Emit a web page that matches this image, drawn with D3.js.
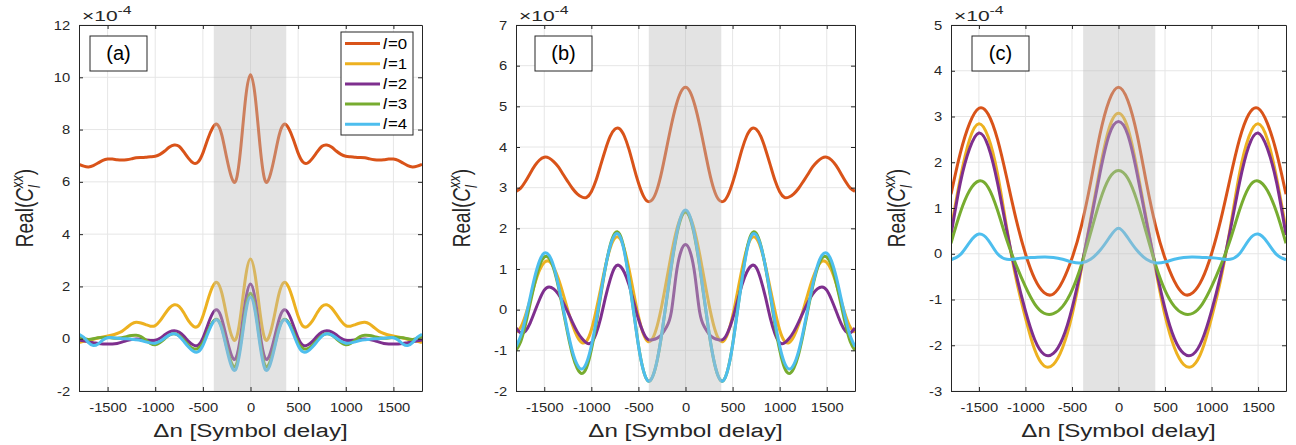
<!DOCTYPE html>
<html>
<head>
<meta charset="utf-8">
<script src="https://cdn.jsdelivr.net/npm/d3@7/dist/d3.min.js"></script>
<style>
  body { margin: 0; background: #fff; }
  svg { display: block; font-family: 'Liberation Sans', Arial, sans-serif; }
</style>
</head>
<body>
<script>
// delay grid used by panels (a) and (b), step 50
var xDense = [-1800, -1750, -1700, -1650, -1600, -1550, -1500, -1450, -1400, -1350, -1300, -1250,
  -1200, -1150, -1100, -1050, -1000, -950, -900, -850, -800, -750, -700, -650, -600, -550, -500,
  -450, -400, -350, -300, -250, -200, -150, -100, -50, 0, 50, 100, 150, 200, 250, 300, 350, 400,
  450, 500, 550, 600, 650, 700, 750, 800, 850, 900, 950, 1000, 1050, 1100, 1150, 1200, 1250, 1300,
  1350, 1400, 1450, 1500, 1550, 1600, 1650, 1700, 1750, 1800];
// delay grid used by panel (c), step 100
var xSparse = [-1800, -1700, -1600, -1500, -1400, -1300, -1200, -1100, -1000, -900, -800, -700,
  -600, -500, -400, -300, -200, -100, 0, 100, 200, 300, 400, 500, 600, 700, 800, 900, 1000, 1100,
  1200, 1300, 1400, 1500, 1600, 1700, 1800];

var seriesNames = ['0', '1', '2', '3', '4'];
var seriesColors = ['#D95319', '#EDB120', '#7E2F8E', '#77AC30', '#4DBEEE'];
var xTicks = [-1500, -1000, -500, 0, 500, 1000, 1500];
var yTicksA = [-2, 0, 2, 4, 6, 8, 10, 12];
var yTicksB = [-2, -1, 0, 1, 2, 3, 4, 5, 6, 7];
var yTicksC = [-3, -2, -1, 0, 1, 2, 3, 4, 5];
var shadeA = [-385, 375];
var shadeB = [-390, 380];
var shadeC = [-380, 395];

// panel (a), values x 1e-4
var aL0 = [6.67, 6.60, 6.57, 6.62, 6.72, 6.82, 6.87, 6.87, 6.85, 6.84, 6.85, 6.88, 6.92, 6.93, 6.94, 6.96, 6.98, 7.05, 7.18, 7.33, 7.41, 7.36, 7.15, 6.90, 6.72, 6.76, 7.10, 7.62, 8.05, 8.20, 7.78, 6.92, 6.18, 6.08, 7.38, 9.24, 10.1, 9.24, 7.38, 6.08, 6.18, 6.92, 7.78, 8.20, 8.05, 7.62, 7.10, 6.76, 6.72, 6.90, 7.15, 7.36, 7.41, 7.33, 7.18, 7.05, 6.98, 6.96, 6.94, 6.93, 6.92, 6.88, 6.85, 6.84, 6.85, 6.87, 6.87, 6.82, 6.72, 6.62, 6.57, 6.60, 6.67];
var aL1 = [-0.15, -0.10, -0.06, -0.02, 0.03, 0.07, 0.10, 0.14, 0.20, 0.28, 0.42, 0.56, 0.63, 0.60, 0.54, 0.48, 0.50, 0.68, 0.94, 1.18, 1.30, 1.24, 0.99, 0.68, 0.48, 0.48, 0.86, 1.45, 1.97, 2.15, 1.73, 0.87, 0.13, 0.01, 1.00, 2.40, 3.05, 2.40, 1.00, 0.01, 0.13, 0.87, 1.73, 2.15, 1.97, 1.45, 0.86, 0.48, 0.48, 0.68, 0.99, 1.24, 1.30, 1.18, 0.94, 0.68, 0.50, 0.48, 0.54, 0.60, 0.63, 0.56, 0.42, 0.28, 0.20, 0.14, 0.10, 0.07, 0.03, -0.02, -0.06, -0.10, -0.15];
var aL2 = [-0.05, -0.08, -0.12, -0.15, -0.18, -0.20, -0.20, -0.20, -0.18, -0.13, -0.07, -0.03, -0.01, -0.02, -0.05, -0.07, -0.06, 0.02, 0.15, 0.26, 0.30, 0.25, 0.10, -0.10, -0.24, -0.25, 0.02, 0.51, 0.95, 1.10, 0.74, 0.01, -0.63, -0.72, 0.20, 1.49, 2.09, 1.49, 0.20, -0.72, -0.63, 0.01, 0.74, 1.10, 0.95, 0.51, 0.02, -0.25, -0.24, -0.10, 0.10, 0.25, 0.30, 0.26, 0.15, 0.02, -0.06, -0.07, -0.05, -0.02, -0.01, -0.03, -0.07, -0.13, -0.18, -0.20, -0.20, -0.20, -0.18, -0.15, -0.12, -0.08, -0.05];
var aL3 = [0.08, 0.02, -0.03, 0.00, 0.04, 0.05, 0.05, 0.03, 0.02, 0.04, 0.08, 0.12, 0.13, 0.08, -0.05, -0.18, -0.23, -0.15, 0.00, 0.14, 0.19, 0.12, -0.05, -0.25, -0.38, -0.37, -0.16, 0.25, 0.62, 0.74, 0.40, -0.31, -0.92, -1.01, -0.11, 1.15, 1.74, 1.15, -0.11, -1.01, -0.92, -0.31, 0.40, 0.74, 0.62, 0.25, -0.16, -0.37, -0.38, -0.25, -0.05, 0.12, 0.19, 0.14, 0.00, -0.15, -0.23, -0.18, -0.05, 0.08, 0.13, 0.12, 0.08, 0.04, 0.02, 0.03, 0.05, 0.05, 0.04, 0.00, -0.03, 0.02, 0.08];
var aL4 = [0.17, 0.05, -0.15, -0.26, -0.20, -0.05, 0.04, 0.04, 0.02, 0.00, 0.00, -0.02, -0.04, -0.07, -0.12, -0.16, -0.17, -0.10, 0.03, 0.15, 0.19, 0.10, -0.10, -0.32, -0.48, -0.50, -0.26, 0.18, 0.58, 0.72, 0.36, -0.39, -1.05, -1.14, -0.25, 1.01, 1.60, 1.01, -0.25, -1.14, -1.05, -0.39, 0.36, 0.72, 0.58, 0.18, -0.26, -0.50, -0.48, -0.32, -0.10, 0.10, 0.19, 0.15, 0.03, -0.10, -0.17, -0.16, -0.12, -0.07, -0.04, -0.02, 0.00, 0.00, 0.02, 0.04, 0.04, -0.05, -0.20, -0.26, -0.15, 0.05, 0.17];

// panel (b)
var bL0 = [2.91, 2.99, 3.15, 3.35, 3.54, 3.68, 3.75, 3.73, 3.64, 3.51, 3.33, 3.15, 2.98, 2.85, 2.77, 2.76, 2.90, 3.18, 3.56, 3.94, 4.26, 4.44, 4.45, 4.27, 3.94, 3.52, 3.12, 2.81, 2.66, 2.71, 2.97, 3.42, 3.98, 4.54, 5.02, 5.35, 5.47, 5.35, 5.02, 4.54, 3.98, 3.42, 2.97, 2.71, 2.66, 2.81, 3.12, 3.52, 3.94, 4.27, 4.45, 4.44, 4.26, 3.94, 3.56, 3.18, 2.90, 2.76, 2.77, 2.85, 2.98, 3.15, 3.33, 3.51, 3.64, 3.73, 3.75, 3.68, 3.54, 3.35, 3.15, 2.99, 2.91];
var bL1 = [-0.56, -0.43, -0.14, 0.24, 0.64, 0.97, 1.16, 1.19, 1.04, 0.76, 0.39, -0.01, -0.38, -0.66, -0.81, -0.77, -0.50, -0.03, 0.52, 1.07, 1.51, 1.76, 1.76, 1.49, 1.00, 0.41, -0.16, -0.58, -0.78, -0.71, -0.39, 0.12, 0.74, 1.37, 1.91, 2.27, 2.40, 2.27, 1.91, 1.37, 0.74, 0.12, -0.39, -0.71, -0.78, -0.58, -0.16, 0.41, 1.00, 1.49, 1.76, 1.76, 1.51, 1.07, 0.52, -0.03, -0.50, -0.77, -0.81, -0.66, -0.38, -0.01, 0.39, 0.76, 1.04, 1.19, 1.16, 0.97, 0.64, 0.24, -0.14, -0.43, -0.56];
var bL2 = [-0.45, -0.57, -0.53, -0.33, -0.04, 0.25, 0.48, 0.56, 0.51, 0.38, 0.18, -0.06, -0.31, -0.54, -0.71, -0.82, -0.81, -0.59, -0.20, 0.30, 0.74, 1.04, 1.08, 0.92, 0.61, 0.19, -0.23, -0.55, -0.73, -0.74, -0.70, -0.60, -0.42, -0.05, 0.85, 1.42, 1.60, 1.42, 0.85, -0.05, -0.42, -0.60, -0.70, -0.74, -0.73, -0.55, -0.23, 0.19, 0.61, 0.92, 1.08, 1.04, 0.74, 0.30, -0.20, -0.59, -0.81, -0.82, -0.71, -0.54, -0.31, -0.06, 0.18, 0.38, 0.51, 0.56, 0.48, 0.25, -0.04, -0.33, -0.53, -0.57, -0.45];
var bL3 = [-1.00, -0.79, -0.37, 0.15, 0.66, 1.08, 1.29, 1.27, 1.01, 0.56, -0.01, -0.60, -1.11, -1.44, -1.57, -1.42, -0.99, -0.37, 0.35, 1.04, 1.58, 1.88, 1.86, 1.47, 0.77, -0.05, -0.87, -1.47, -1.75, -1.65, -1.24, -0.57, 0.24, 1.06, 1.76, 2.23, 2.40, 2.23, 1.76, 1.06, 0.24, -0.57, -1.24, -1.65, -1.75, -1.47, -0.87, -0.05, 0.77, 1.47, 1.86, 1.88, 1.58, 1.04, 0.35, -0.37, -0.99, -1.42, -1.57, -1.44, -1.11, -0.60, -0.01, 0.56, 1.01, 1.27, 1.29, 1.08, 0.66, 0.15, -0.37, -0.79, -1.00];
var bL4 = [-0.91, -0.65, -0.22, 0.30, 0.81, 1.20, 1.39, 1.34, 1.07, 0.60, 0.04, -0.54, -1.03, -1.35, -1.46, -1.30, -0.89, -0.29, 0.40, 1.05, 1.56, 1.84, 1.82, 1.43, 0.74, -0.07, -0.88, -1.47, -1.75, -1.65, -1.23, -0.56, 0.26, 1.09, 1.80, 2.28, 2.45, 2.28, 1.80, 1.09, 0.26, -0.56, -1.23, -1.65, -1.75, -1.47, -0.88, -0.07, 0.74, 1.43, 1.82, 1.84, 1.56, 1.05, 0.40, -0.29, -0.89, -1.30, -1.46, -1.35, -1.03, -0.54, 0.04, 0.60, 1.07, 1.34, 1.39, 1.20, 0.81, 0.30, -0.22, -0.65, -0.91];

// panel (c)
var cL0 = [1.30, 2.20, 2.85, 3.18, 3.05, 2.50, 1.65, 0.75, 0.00, -0.55, -0.85, -0.88, -0.60, -0.10, 0.60, 1.55, 2.60, 3.35, 3.64, 3.35, 2.60, 1.55, 0.60, -0.10, -0.60, -0.88, -0.85, -0.55, 0.00, 0.75, 1.65, 2.50, 3.05, 3.18, 2.85, 2.20, 1.30];
var cL1 = [0.53, 1.65, 2.50, 2.84, 2.55, 1.75, 0.55, -0.55, -1.40, -2.10, -2.45, -2.42, -2.05, -1.35, -0.35, 0.75, 1.85, 2.75, 3.07, 2.75, 1.85, 0.75, -0.35, -1.35, -2.05, -2.42, -2.45, -2.10, -1.40, -0.55, 0.55, 1.75, 2.55, 2.84, 2.50, 1.65, 0.53];
var cL2 = [0.41, 1.55, 2.30, 2.64, 2.35, 1.55, 0.50, -0.45, -1.25, -1.88, -2.20, -2.18, -1.85, -1.20, -0.30, 0.70, 1.75, 2.60, 2.89, 2.60, 1.75, 0.70, -0.30, -1.20, -1.85, -2.18, -2.20, -1.88, -1.25, -0.45, 0.50, 1.55, 2.35, 2.64, 2.30, 1.55, 0.41];
var cL3 = [0.23, 0.90, 1.38, 1.59, 1.45, 0.95, 0.30, -0.25, -0.72, -1.10, -1.30, -1.31, -1.15, -0.80, -0.25, 0.45, 1.15, 1.65, 1.82, 1.65, 1.15, 0.45, -0.25, -0.80, -1.15, -1.31, -1.30, -1.10, -0.72, -0.25, 0.30, 0.95, 1.45, 1.59, 1.38, 0.90, 0.23];
var cL4 = [-0.13, -0.02, 0.25, 0.43, 0.30, 0.00, -0.12, -0.11, -0.09, -0.08, -0.07, -0.08, -0.12, -0.18, -0.20, -0.12, 0.07, 0.35, 0.56, 0.35, 0.07, -0.12, -0.20, -0.18, -0.12, -0.08, -0.07, -0.08, -0.09, -0.11, -0.12, 0.00, 0.30, 0.43, 0.25, -0.02, -0.13];

var panels = [
  { label: '(a)', xs: xDense, series: [aL0, aL1, aL2, aL3, aL4], yDomain: [-2, 12], yTicks: yTicksA,
    shade: shadeA, left: 79, right: 422, boxX: 90, legend: true },
  { label: '(b)', xs: xDense, series: [bL0, bL1, bL2, bL3, bL4], yDomain: [-2, 7], yTicks: yTicksB,
    shade: shadeB, left: 516, right: 855, boxX: 535, legend: false },
  { label: '(c)', xs: xSparse, series: [cL0, cL1, cL2, cL3, cL4], yDomain: [-3, 5], yTicks: yTicksC,
    shade: shadeC, left: 951, right: 1286, boxX: 972, legend: false }
];

var W = 1296, H = 445;
var plotTop = 25, plotBottom = 391;
var axisColor = '#262626';
var font = "'Liberation Sans', Arial, sans-serif";

var svg = d3.select('body').append('svg')
  .attr('width', W)
  .attr('height', H);

svg.append('rect').attr('width', W).attr('height', H).attr('fill', '#fff');

panels.forEach(function(p, pi) {
  var x = d3.scaleLinear().domain([-1800, 1800]).range([p.left, p.right]);
  var y = d3.scaleLinear().domain(p.yDomain).range([plotBottom, plotTop]);
  var g = svg.append('g');

  var clipId = 'clip' + pi;
  svg.append('clipPath').attr('id', clipId)
    .append('rect')
      .attr('x', p.left).attr('y', plotTop)
      .attr('width', p.right - p.left).attr('height', plotBottom - plotTop);

  // grid
  var grid = g.append('g');
  grid.selectAll('line.gx').data(xTicks).enter().append('line')
    .attr('x1', function(d) { return x(d); }).attr('x2', function(d) { return x(d); })
    .attr('y1', plotTop).attr('y2', plotBottom)
    .attr('stroke', '#e6e6e6').attr('stroke-width', 1);
  grid.selectAll('line.gy').data(p.yTicks).enter().append('line')
    .attr('y1', function(d) { return y(d); }).attr('y2', function(d) { return y(d); })
    .attr('x1', p.left).attr('x2', p.right)
    .attr('stroke', '#e6e6e6').attr('stroke-width', 1);

  // curves
  var line = d3.line()
    .x(function(d, i) { return x(p.xs[i]); })
    .y(function(d) { return y(d); })
    .curve(d3.curveNatural);
  var lines = g.append('g').attr('clip-path', 'url(#' + clipId + ')');
  p.series.forEach(function(s, si) {
    lines.append('path')
      .attr('d', line(s))
      .attr('fill', 'none')
      .attr('stroke', seriesColors[si])
      .attr('stroke-width', 3)
      .attr('stroke-linejoin', 'round');
  });

  // shaded window, drawn over the curves
  g.append('rect')
    .attr('x', x(p.shade[0])).attr('y', plotTop)
    .attr('width', x(p.shade[1]) - x(p.shade[0]))
    .attr('height', plotBottom - plotTop)
    .attr('fill', '#bdbdbd').attr('opacity', 0.42);

  // axes (ticks inward on all four sides)
  var fmt = function(d) { return String(d); };
  var axB = g.append('g').attr('transform', 'translate(0,' + plotBottom + ')')
    .call(d3.axisBottom(x).tickValues(xTicks).tickSize(-4).tickSizeOuter(0).tickPadding(12).tickFormat(fmt));
  var axT = g.append('g').attr('transform', 'translate(0,' + plotTop + ')')
    .call(d3.axisTop(x).tickValues(xTicks).tickSize(-4).tickSizeOuter(0).tickFormat(''));
  var axL = g.append('g').attr('transform', 'translate(' + p.left + ',0)')
    .call(d3.axisLeft(y).tickValues(p.yTicks).tickSize(-4).tickSizeOuter(0).tickPadding(7.5).tickFormat(fmt));
  var axR = g.append('g').attr('transform', 'translate(' + p.right + ',0)')
    .call(d3.axisRight(y).tickValues(p.yTicks).tickSize(-4).tickSizeOuter(0).tickFormat(''));
  [axB, axT, axL, axR].forEach(function(a) {
    a.attr('font-family', font).attr('font-size', 12.5);
    a.select('.domain').attr('stroke', axisColor).attr('stroke-width', 1);
    a.selectAll('.tick line').attr('stroke', axisColor);
    a.selectAll('.tick text').attr('fill', axisColor).attr('transform', 'scale(1.18,1)');
  });

  // x10^-4 multiplier
  var mult = g.append('text')
    .attr('transform', 'translate(' + (p.left + 3) + ',21) scale(1.5,1)')
    .attr('font-family', font).attr('font-size', 14).attr('fill', axisColor);
  mult.append('tspan').text('\u00d710');
  mult.append('tspan').attr('font-size', 10.5).attr('dy', -7.5).text('-4');

  // x label
  g.append('text')
    .attr('transform', 'translate(' + ((p.left + p.right) / 2) + ',437) scale(1.27,1)')
    .attr('text-anchor', 'middle')
    .attr('font-family', font).attr('font-size', 19).attr('fill', axisColor)
    .text('\u0394n [Symbol delay]');

  // y label
  var yl = g.append('text')
    .attr('transform', 'translate(' + (p.left - 46) + ',' + ((plotTop + plotBottom) / 2) + ') scale(1.3,1) rotate(-90)')
    .attr('text-anchor', 'middle')
    .attr('font-family', font).attr('font-size', 19).attr('fill', axisColor);
  yl.append('tspan').text('Real(');
  yl.append('tspan').attr('font-style', 'italic').text('C');
  yl.append('tspan').attr('font-style', 'italic').attr('font-size', 13).attr('dy', 5).text('l');
  yl.append('tspan').attr('font-style', 'italic').attr('font-size', 13).attr('dx', -3).attr('dy', -13).text('xx');
  yl.append('tspan').attr('dy', 8).text(')');

  // panel tag
  g.append('rect')
    .attr('x', p.boxX).attr('y', 36).attr('width', 57).attr('height', 35)
    .attr('fill', '#fff').attr('stroke', axisColor).attr('stroke-width', 1);
  g.append('text')
    .attr('x', p.boxX + 28.5).attr('y', 60)
    .attr('text-anchor', 'middle')
    .attr('font-family', font).attr('font-size', 20).attr('fill', '#000')
    .text(p.label);

  // legend
  if (p.legend) {
    var lg = g.append('g');
    lg.append('rect')
      .attr('x', 341).attr('y', 32).attr('width', 72).attr('height', 103)
      .attr('fill', '#fff').attr('stroke', axisColor).attr('stroke-width', 1);
    seriesNames.forEach(function(n, i) {
      var ly = 43.5 + i * 20.2;
      lg.append('line')
        .attr('x1', 345).attr('x2', 380).attr('y1', ly).attr('y2', ly)
        .attr('stroke', seriesColors[i]).attr('stroke-width', 3);
      var t = lg.append('text')
        .attr('transform', 'translate(383,' + (ly + 5) + ') scale(1.2,1)')
        .attr('font-family', font).attr('font-size', 14).attr('fill', '#000');
      t.append('tspan').attr('font-style', 'italic').text('l');
      t.append('tspan').text('=' + n).attr('dx', 1);
    });
  }
});
</script>
</body>
</html>
